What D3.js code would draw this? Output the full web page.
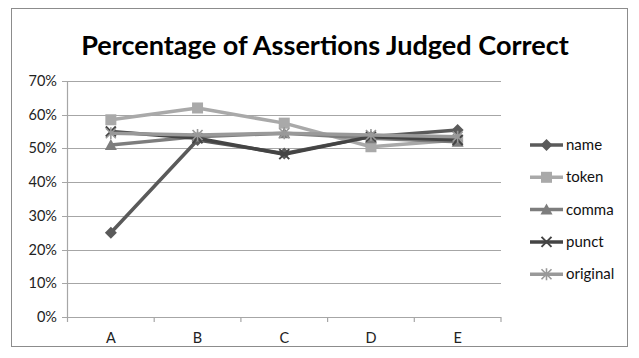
<!DOCTYPE html>
<html><head><meta charset="utf-8">
<script src="https://cdn.jsdelivr.net/npm/d3@7"></script>
<style>body{margin:0;background:#fff}text{font-family:Lato,"Open Sans",sans-serif}</style>
</head><body><svg id="c" width="639" height="358"></svg>
<script>
const categories = ["A","B","C","D","E"];
const seriesNames = ["name","token","comma","punct","original"];
const nameVals = [0.25, 0.525, 0.485, 0.535, 0.555];
const tokenVals = [0.585, 0.62, 0.575, 0.505, 0.525];
const commaVals = [0.51, 0.535, 0.545, 0.53, 0.52];
const punctVals = [0.55, 0.53, 0.483, 0.535, 0.525];
const originalVals = [0.545, 0.54, 0.545, 0.54, 0.535];
const yTicks = [0,0.1,0.2,0.3,0.4,0.5,0.6,0.7];
const colors = ["#5a5a5a","#a9a9a9","#7d7d7d","#444444","#999999"];
const symbols = ["diamond","square","triangle","x","asterisk"];

const series = [nameVals,tokenVals,commaVals,punctVals,originalVals].map((v,i)=>({name:seriesNames[i],values:v,color:colors[i],sym:symbols[i]}));

const svg = d3.select("#c");
svg.append("rect").attr("x",11.5).attr("y",8.5).attr("width",616).attr("height",338).attr("fill","#fff").attr("stroke","#8c8c8c").attr("stroke-width",1);

const title = svg.append("text").attr("x",325).attr("y",55).attr("text-anchor","middle").attr("font-weight","bold").attr("font-size",25).attr("fill","#000").text("Percentage of Assertions Judged Correct");
const tw = title.node().getComputedTextLength();
title.attr("font-size", 25*488/tw);

const x = d3.scaleBand().domain(categories).range([67.5,501]);
const y = d3.scaleLinear().domain([0,0.7]).range([317,81]);

const g = svg.append("g");
g.selectAll("line.grid").data(yTicks).join("line").attr("x1",62).attr("x2",501).attr("y1",d=>Math.round(y(d))+0.5).attr("y2",d=>Math.round(y(d))+0.5).attr("stroke","#a6a6a6").attr("stroke-width",1.2);
g.append("line").attr("x1",67.5).attr("x2",67.5).attr("y1",81).attr("y2",317.5).attr("stroke","#a6a6a6").attr("stroke-width",1.2);
const bounds = categories.map(c=>x(c)).concat([x.range()[1]]);
g.selectAll("line.xt").data(bounds).join("line").attr("x1",d=>d).attr("x2",d=>d).attr("y1",317).attr("y2",322).attr("stroke","#a6a6a6").attr("stroke-width",1.2);
g.selectAll("text.yl").data(yTicks).join("text").attr("x",57).attr("y",d=>y(d)+5).attr("text-anchor","end").attr("font-size",14.5).attr("fill","#222").text(d=>d3.format(".0%")(d));
g.selectAll("text.xl").data(categories).join("text").attr("x",d=>x(d)+x.bandwidth()/2).attr("y",343).attr("text-anchor","middle").attr("font-size",14.5).attr("fill","#222").text(d=>d);

function marker(sel, sym, color, cx, cy){
  const s = sel.append("g").attr("transform",`translate(${cx},${cy})`);
  if(sym==="diamond") s.append("path").attr("d","M0,-6L6,0L0,6L-6,0Z").attr("fill",color);
  else if(sym==="square") s.append("rect").attr("x",-5.5).attr("y",-5.5).attr("width",11).attr("height",11).attr("fill",color);
  else if(sym==="triangle") s.append("path").attr("d","M0,-6L6,5L-6,5Z").attr("fill",color);
  else if(sym==="x") s.append("path").attr("d","M-5,-5L5,5M-5,5L5,-5").attr("stroke",color).attr("stroke-width",2);
  else if(sym==="asterisk") s.append("path").attr("d","M-5,-5L5,5M-5,5L5,-5M0,-6L0,6").attr("stroke",color).attr("stroke-width",1.6);
}

const line = d3.line().x((d,i)=>x(categories[i])+x.bandwidth()/2).y(d=>y(d));
series.forEach(s=>{
  g.append("path").attr("d",line(s.values)).attr("fill","none").attr("stroke",s.color).attr("stroke-width",3.5).attr("stroke-linejoin","round");
  s.values.forEach((v,i)=>marker(g,s.sym,s.color,x(categories[i])+x.bandwidth()/2,y(v)));
});

const leg = svg.append("g");
series.forEach((s,i)=>{
  const ly = 145 + i*32.3;
  leg.append("line").attr("x1",530).attr("x2",563).attr("y1",ly).attr("y2",ly).attr("stroke",s.color).attr("stroke-width",3.5);
  marker(leg,s.sym,s.color,546.5,ly);
  leg.append("text").attr("x",566).attr("y",ly+5).attr("font-size",15).attr("fill","#111").text(s.name);
});
</script></body></html>
